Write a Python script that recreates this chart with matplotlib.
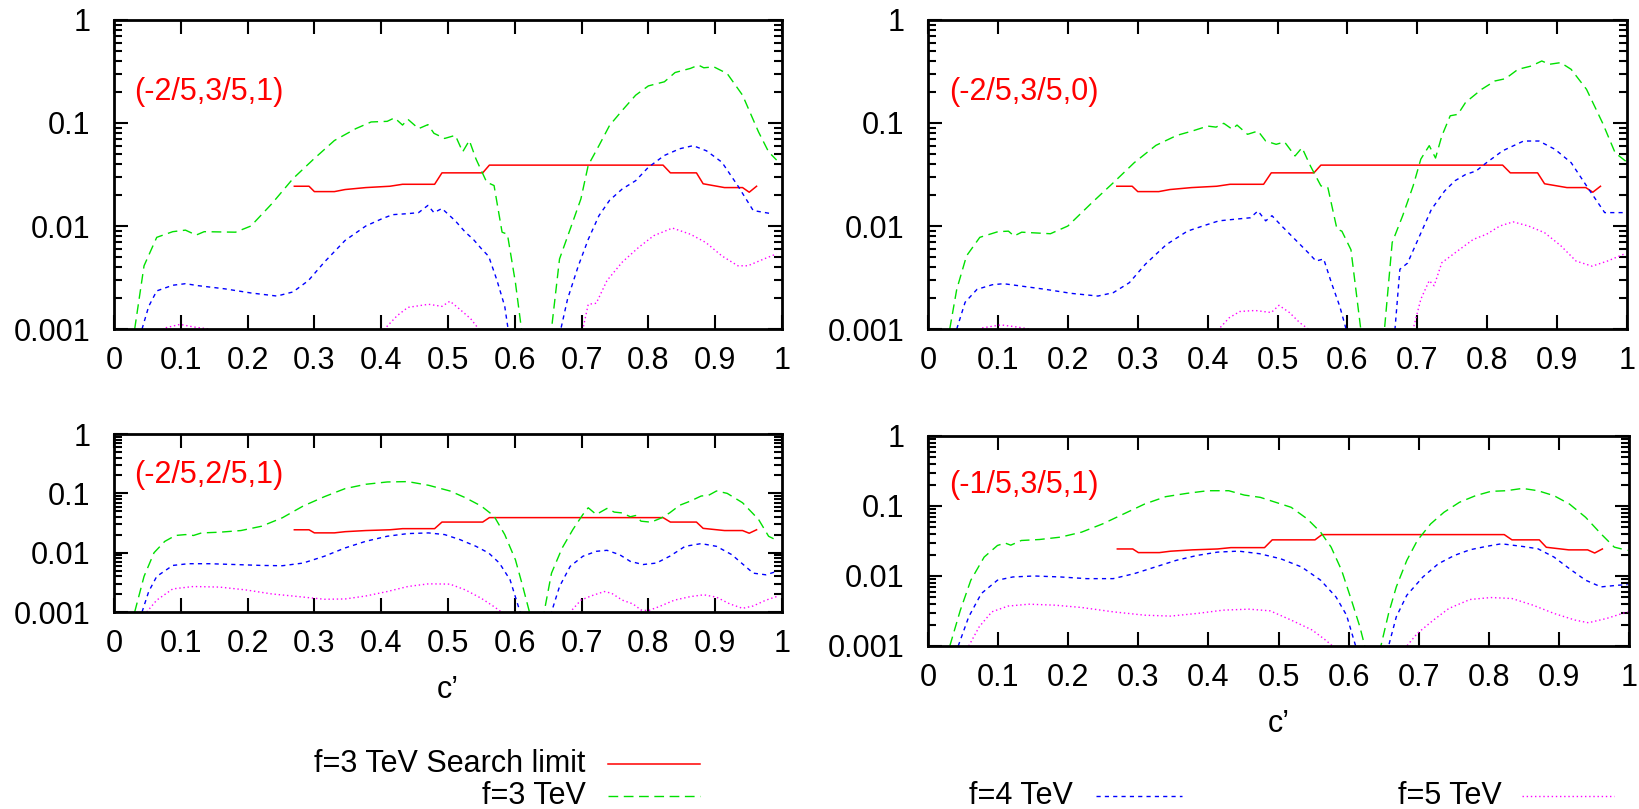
import numpy as np
import matplotlib
matplotlib.use("Agg")
import matplotlib.pyplot as plt
from matplotlib.lines import Line2D
from matplotlib.ticker import FixedLocator, LogLocator, NullFormatter

plt.rcParams['font.family'] = ['Liberation Sans', 'DejaVu Sans']

# search limit for f=3 TeV, same in every panel: (c', log10 value)
limit_f3 = [(0.270, -1.614), (0.292, -1.614), (0.300, -1.666), (0.330, -1.666),
            (0.346, -1.646), (0.377, -1.627), (0.413, -1.614), (0.432, -1.595),
            (0.480, -1.595), (0.491, -1.484), (0.552, -1.484), (0.562, -1.409),
            (0.822, -1.409), (0.833, -1.484), (0.872, -1.484), (0.882, -1.590),
            (0.914, -1.627), (0.941, -1.627), (0.951, -1.672), (0.962, -1.614)]

# (-2/5,3/5,1)
tl_f3 = [(0.031, -3.0), (0.045, -2.386), (0.064, -2.11), (0.088, -2.055), (0.107, -2.04),
         (0.123, -2.088), (0.135, -2.055), (0.182, -2.06), (0.205, -2.0), (0.236, -1.786),
         (0.268, -1.54), (0.299, -1.35), (0.330, -1.17), (0.362, -1.055), (0.385, -0.99),
         (0.409, -0.984), (0.420, -0.95), (0.432, -1.02), (0.440, -0.964), (0.456, -1.055),
         (0.470, -1.016), (0.479, -1.10), (0.495, -1.15), (0.511, -1.12), (0.522, -1.28),
         (0.532, -1.17), (0.542, -1.35), (0.558, -1.575), (0.569, -1.607), (0.581, -2.06),
         (0.589, -2.08), (0.601, -2.55), (0.610, -3.0), (0.615, -3.3), (0.650, -3.3),
         (0.655, -3.0), (0.667, -2.32), (0.683, -2.03), (0.699, -1.737), (0.710, -1.41),
         (0.726, -1.22), (0.742, -1.023), (0.761, -0.877), (0.781, -0.73), (0.800, -0.64),
         (0.824, -0.60), (0.840, -0.51), (0.863, -0.47), (0.875, -0.438), (0.883, -0.464),
         (0.898, -0.455), (0.918, -0.52), (0.941, -0.73), (0.965, -1.088), (0.980, -1.28),
         (0.992, -1.36)]
tl_f4 = [(0.042, -3.0), (0.052, -2.78), (0.064, -2.63), (0.088, -2.575), (0.107, -2.56),
         (0.127, -2.58), (0.166, -2.61), (0.205, -2.65), (0.244, -2.68), (0.268, -2.64),
         (0.291, -2.53), (0.315, -2.35), (0.346, -2.14), (0.377, -2.0), (0.401, -1.93),
         (0.417, -1.89), (0.440, -1.88), (0.456, -1.87), (0.470, -1.80), (0.479, -1.87),
         (0.491, -1.83), (0.511, -1.95), (0.526, -2.06), (0.538, -2.13), (0.550, -2.22),
         (0.561, -2.295), (0.573, -2.52), (0.585, -2.78), (0.590, -3.0), (0.595, -3.3),
         (0.665, -3.3), (0.669, -3.0), (0.679, -2.71), (0.695, -2.39), (0.710, -2.13),
         (0.726, -1.90), (0.742, -1.75), (0.761, -1.64), (0.781, -1.56), (0.800, -1.43),
         (0.824, -1.315), (0.847, -1.25), (0.867, -1.22), (0.887, -1.27), (0.910, -1.38),
         (0.934, -1.61), (0.957, -1.85), (0.984, -1.88)]
tl_f5 = [(0.060, -3.1), (0.076, -2.99), (0.099, -2.955), (0.119, -2.98), (0.143, -3.0),
         (0.160, -3.3), (0.390, -3.3), (0.405, -3.0), (0.424, -2.87), (0.440, -2.79),
         (0.471, -2.76), (0.491, -2.78), (0.503, -2.73), (0.518, -2.81), (0.534, -2.9),
         (0.546, -3.0), (0.560, -3.3), (0.690, -3.3), (0.702, -3.0), (0.710, -2.76),
         (0.722, -2.75), (0.738, -2.53), (0.761, -2.35), (0.785, -2.21), (0.808, -2.094),
         (0.836, -2.02), (0.863, -2.08), (0.886, -2.16), (0.910, -2.29), (0.934, -2.386),
         (0.949, -2.386), (0.973, -2.32), (0.992, -2.27)]

# (-2/5,3/5,0)
tr_f3 = [(0.031, -3.0), (0.041, -2.615), (0.055, -2.29), (0.074, -2.11), (0.100, -2.055),
         (0.115, -2.05), (0.123, -2.097), (0.134, -2.06), (0.175, -2.075), (0.200, -2.0),
         (0.235, -1.77), (0.265, -1.58), (0.295, -1.385), (0.326, -1.217), (0.356, -1.12),
         (0.378, -1.078), (0.400, -1.03), (0.412, -1.04), (0.423, -1.003), (0.435, -1.06),
         (0.442, -1.02), (0.457, -1.11), (0.472, -1.078), (0.483, -1.175), (0.498, -1.207),
         (0.510, -1.184), (0.525, -1.32), (0.535, -1.24), (0.547, -1.417), (0.562, -1.61),
         (0.572, -1.628), (0.585, -2.03), (0.592, -2.05), (0.605, -2.23), (0.619, -3.0),
         (0.625, -3.3), (0.648, -3.3), (0.653, -3.0), (0.664, -2.16), (0.679, -1.90),
         (0.694, -1.61), (0.705, -1.35), (0.717, -1.22), (0.726, -1.34), (0.735, -1.126),
         (0.747, -0.93), (0.758, -0.916), (0.769, -0.80), (0.792, -0.673), (0.811, -0.592),
         (0.826, -0.57), (0.844, -0.479), (0.863, -0.447), (0.878, -0.398), (0.889, -0.43),
         (0.905, -0.414), (0.920, -0.479), (0.942, -0.673), (0.965, -1.0), (0.983, -1.29),
         (0.998, -1.37)]
tr_f4 = [(0.041, -3.0), (0.053, -2.74), (0.070, -2.615), (0.092, -2.57), (0.108, -2.56),
         (0.130, -2.58), (0.168, -2.615), (0.205, -2.654), (0.243, -2.68), (0.265, -2.647),
         (0.288, -2.55), (0.311, -2.37), (0.341, -2.18), (0.371, -2.05), (0.393, -2.0),
         (0.416, -1.95), (0.438, -1.935), (0.461, -1.92), (0.472, -1.854), (0.483, -1.95),
         (0.492, -1.90), (0.506, -2.0), (0.525, -2.13), (0.544, -2.26), (0.555, -2.34),
         (0.566, -2.32), (0.577, -2.55), (0.589, -2.78), (0.598, -3.0), (0.603, -3.3),
         (0.664, -3.3), (0.668, -3.0), (0.675, -2.42), (0.686, -2.36), (0.701, -2.13),
         (0.720, -1.84), (0.739, -1.66), (0.754, -1.56), (0.769, -1.50), (0.784, -1.466),
         (0.799, -1.385), (0.822, -1.27), (0.852, -1.175), (0.874, -1.175), (0.897, -1.256),
         (0.920, -1.385), (0.942, -1.61), (0.968, -1.87), (0.995, -1.87)]
tr_f5 = [(0.060, -3.1), (0.077, -2.99), (0.104, -2.96), (0.127, -2.98), (0.145, -3.0),
         (0.160, -3.3), (0.400, -3.3), (0.416, -3.0), (0.431, -2.89), (0.446, -2.83),
         (0.468, -2.82), (0.491, -2.84), (0.502, -2.77), (0.517, -2.84), (0.532, -2.94),
         (0.544, -3.0), (0.555, -3.3), (0.685, -3.3), (0.694, -3.0), (0.705, -2.71),
         (0.717, -2.53), (0.724, -2.58), (0.735, -2.356), (0.758, -2.24), (0.780, -2.13),
         (0.799, -2.08), (0.818, -2.0), (0.837, -1.96), (0.859, -2.0), (0.882, -2.065),
         (0.905, -2.19), (0.927, -2.34), (0.950, -2.39), (0.972, -2.34), (0.995, -2.275)]

# (-2/5,2/5,1)
bl_f3 = [(0.031, -3.0), (0.045, -2.40), (0.060, -2.0), (0.076, -1.81), (0.092, -1.71),
         (0.107, -1.695), (0.119, -1.71), (0.131, -1.667), (0.158, -1.655), (0.190, -1.627),
         (0.221, -1.554), (0.252, -1.412), (0.283, -1.215), (0.315, -1.056), (0.346, -0.92),
         (0.377, -0.847), (0.409, -0.808), (0.440, -0.802), (0.471, -0.864), (0.503, -0.96),
         (0.526, -1.073), (0.550, -1.215), (0.569, -1.384), (0.585, -1.695), (0.601, -2.12),
         (0.612, -2.57), (0.622, -3.0), (0.627, -3.3), (0.640, -3.3), (0.644, -3.0),
         (0.655, -2.345), (0.671, -1.92), (0.687, -1.61), (0.702, -1.356), (0.710, -1.243),
         (0.722, -1.356), (0.738, -1.254), (0.749, -1.316), (0.761, -1.33), (0.773, -1.395),
         (0.781, -1.373), (0.789, -1.469), (0.804, -1.486), (0.820, -1.412), (0.832, -1.328),
         (0.847, -1.2), (0.863, -1.13), (0.879, -1.045), (0.890, -1.034), (0.902, -0.96),
         (0.918, -1.0), (0.941, -1.158), (0.965, -1.44), (0.980, -1.723), (0.992, -1.79)]
bl_f4 = [(0.042, -3.0), (0.052, -2.655), (0.064, -2.40), (0.088, -2.215), (0.111, -2.186),
         (0.143, -2.186), (0.182, -2.2), (0.221, -2.215), (0.252, -2.22), (0.283, -2.175),
         (0.315, -2.06), (0.346, -1.92), (0.377, -1.808), (0.409, -1.723), (0.440, -1.678),
         (0.471, -1.667), (0.495, -1.695), (0.518, -1.78), (0.542, -1.893), (0.561, -2.006),
         (0.577, -2.175), (0.593, -2.458), (0.608, -3.0), (0.613, -3.3), (0.650, -3.3),
         (0.655, -3.0), (0.667, -2.57), (0.683, -2.23), (0.702, -2.06), (0.722, -1.977),
         (0.738, -1.96), (0.757, -2.034), (0.773, -2.147), (0.792, -2.2), (0.812, -2.175),
         (0.832, -2.06), (0.855, -1.893), (0.879, -1.847), (0.902, -1.893), (0.925, -2.034),
         (0.957, -2.345), (0.976, -2.373), (0.992, -2.316)]
bl_f5 = [(0.049, -3.0), (0.064, -2.8), (0.088, -2.61), (0.119, -2.57), (0.158, -2.58),
         (0.197, -2.627), (0.236, -2.695), (0.276, -2.74), (0.315, -2.785), (0.346, -2.78),
         (0.377, -2.73), (0.409, -2.655), (0.440, -2.57), (0.471, -2.525), (0.503, -2.53),
         (0.526, -2.627), (0.550, -2.77), (0.569, -2.91), (0.580, -3.0), (0.590, -3.3),
         (0.675, -3.3), (0.683, -3.0), (0.699, -2.8), (0.714, -2.73), (0.734, -2.655),
         (0.745, -2.684), (0.761, -2.8), (0.777, -2.864), (0.789, -2.966), (0.800, -2.977),
         (0.816, -2.91), (0.839, -2.8), (0.863, -2.74), (0.883, -2.71), (0.902, -2.75),
         (0.922, -2.864), (0.941, -2.938), (0.957, -2.898), (0.976, -2.8), (0.992, -2.74)]

# (-1/5,3/5,1)
br_f3 = [(0.031, -3.0), (0.046, -2.49), (0.061, -2.06), (0.080, -1.73), (0.099, -1.564),
         (0.110, -1.53), (0.118, -1.56), (0.133, -1.493), (0.159, -1.479), (0.189, -1.445),
         (0.219, -1.374), (0.249, -1.256), (0.279, -1.114), (0.309, -0.972), (0.339, -0.867),
         (0.369, -0.82), (0.399, -0.782), (0.429, -0.782), (0.451, -0.844), (0.474, -0.877),
         (0.496, -0.948), (0.518, -1.019), (0.541, -1.185), (0.560, -1.374), (0.575, -1.588),
         (0.590, -1.92), (0.604, -2.346), (0.616, -2.725), (0.623, -3.0), (0.628, -3.3),
         (0.641, -3.3), (0.646, -3.0), (0.657, -2.535), (0.668, -2.156), (0.683, -1.777),
         (0.698, -1.493), (0.717, -1.256), (0.736, -1.09), (0.758, -0.948), (0.781, -0.853),
         (0.803, -0.791), (0.825, -0.782), (0.848, -0.749), (0.870, -0.782), (0.893, -0.853),
         (0.915, -0.972), (0.938, -1.161), (0.960, -1.398), (0.979, -1.588), (0.998, -1.635)]
br_f4 = [(0.043, -3.0), (0.058, -2.583), (0.076, -2.25), (0.099, -2.06), (0.121, -2.014),
         (0.151, -2.0), (0.189, -2.014), (0.226, -2.038), (0.264, -2.038), (0.294, -1.967),
         (0.324, -1.872), (0.354, -1.777), (0.384, -1.706), (0.413, -1.659), (0.443, -1.645),
         (0.473, -1.682), (0.503, -1.754), (0.533, -1.872), (0.560, -2.06), (0.582, -2.3),
         (0.597, -2.56), (0.610, -3.0), (0.615, -3.3), (0.652, -3.3), (0.657, -3.0),
         (0.668, -2.583), (0.683, -2.275), (0.706, -2.014), (0.728, -1.825), (0.751, -1.706),
         (0.773, -1.626), (0.796, -1.578), (0.818, -1.54), (0.848, -1.578), (0.870, -1.611),
         (0.893, -1.73), (0.915, -1.896), (0.938, -2.06), (0.960, -2.156), (0.983, -2.133),
         (0.998, -2.123)]
br_f5 = [(0.058, -3.0), (0.073, -2.725), (0.091, -2.512), (0.114, -2.43), (0.144, -2.403),
         (0.181, -2.417), (0.219, -2.45), (0.264, -2.512), (0.309, -2.56), (0.346, -2.573),
         (0.384, -2.535), (0.421, -2.488), (0.458, -2.474), (0.488, -2.498), (0.518, -2.63),
         (0.548, -2.772), (0.567, -2.915), (0.577, -3.0), (0.587, -3.3), (0.675, -3.3),
         (0.683, -3.0), (0.698, -2.82), (0.721, -2.63), (0.743, -2.464), (0.773, -2.336),
         (0.803, -2.308), (0.833, -2.322), (0.863, -2.417), (0.893, -2.535), (0.923, -2.63),
         (0.942, -2.668), (0.968, -2.607), (0.998, -2.512)]

panel_labels = ["(-2/5,3/5,1)", "(-2/5,3/5,0)", "(-2/5,2/5,1)", "(-1/5,3/5,1)"]
panel_data = [(tl_f3, tl_f4, tl_f5), (tr_f3, tr_f4, tr_f5),
              (bl_f3, bl_f4, bl_f5), (br_f3, br_f4, br_f5)]
legend_labels = ["f=3 TeV Search limit", "f=3 TeV", "f=4 TeV", "f=5 TeV"]
xticks = [0, 0.1, 0.2, 0.3, 0.4, 0.5, 0.6, 0.7, 0.8, 0.9, 1]
xtick_labels = ["0", "0.1", "0.2", "0.3", "0.4", "0.5", "0.6", "0.7", "0.8", "0.9", "1"]
yticks = [0.001, 0.01, 0.1, 1]
ytick_labels = ["0.001", "0.01", "0.1", "1"]

RED = "#ff0000"
GREEN = "#00e000"
BLUE = "#0000ff"
MAGENTA = "#ff00ff"
styles = [dict(color=RED, lw=1.1, ls="-"),
          dict(color=GREEN, lw=1.0, ls=(0, (7, 4))),
          dict(color=BLUE, lw=1.0, ls=(0, (3, 3))),
          dict(color=MAGENTA, lw=1.0, ls=(0, (1, 2)))]

FS = 22

fig = plt.figure(figsize=(16.4, 8.09), dpi=100)
rects = [[0.0695, 0.5933, 0.4073, 0.3820],
         [0.5659, 0.5933, 0.4262, 0.3820],
         [0.0695, 0.2435, 0.4073, 0.2200],
         [0.5659, 0.2015, 0.4274, 0.2596]]


def xy(pairs):
    a = np.array(pairs)
    return a[:, 0], 10.0 ** a[:, 1]


for i, (rect, label, series) in enumerate(zip(rects, panel_labels, panel_data)):
    ax = fig.add_axes(rect)
    c, y = xy(limit_f3)
    ax.plot(c, y, **styles[0])
    for s, st in zip(series, styles[1:]):
        c, y = xy(s)
        ax.plot(c, y, **st)
    ax.set_yscale("log")
    ax.set_xlim(0, 1)
    ax.set_ylim(0.001, 1)
    ax.xaxis.set_major_locator(FixedLocator(xticks))
    ax.set_xticklabels(xtick_labels)
    ax.yaxis.set_major_locator(FixedLocator(yticks))
    ax.set_yticklabels(ytick_labels)
    ax.yaxis.set_minor_locator(LogLocator(base=10, subs=np.arange(2, 10)))
    ax.yaxis.set_minor_formatter(NullFormatter())
    ax.tick_params(which="both", direction="in", top=True, right=True,
                   labelsize=FS, width=1.5)
    ax.tick_params(which="major", length=10)
    ax.tick_params(which="minor", length=5.5)
    ax.tick_params(axis="x", pad=12)
    ax.tick_params(axis="y", pad=17)
    for sp in ax.spines.values():
        sp.set_linewidth(2)
    ax.text(0.03, 0.2, label, color=RED, fontsize=FS, va="center", ha="left")
    if i >= 2:
        ax.set_xlabel("c\u2019", fontsize=FS, labelpad=12)

# legend rows, text right-aligned with a line sample after it
legend_items = [(0.357, 0.056, 0.371, 0.427), (0.357, 0.016, 0.371, 0.427),
                (0.654, 0.016, 0.668, 0.721), (0.916, 0.016, 0.928, 0.984)]
for text, st, (tx, ty, x0, x1) in zip(legend_labels, styles, legend_items):
    fig.text(tx, ty, text, fontsize=FS, ha="right", va="center")
    fig.add_artist(Line2D([x0, x1], [ty, ty], transform=fig.transFigure, **st))

fig.savefig("out.png", dpi=100)
